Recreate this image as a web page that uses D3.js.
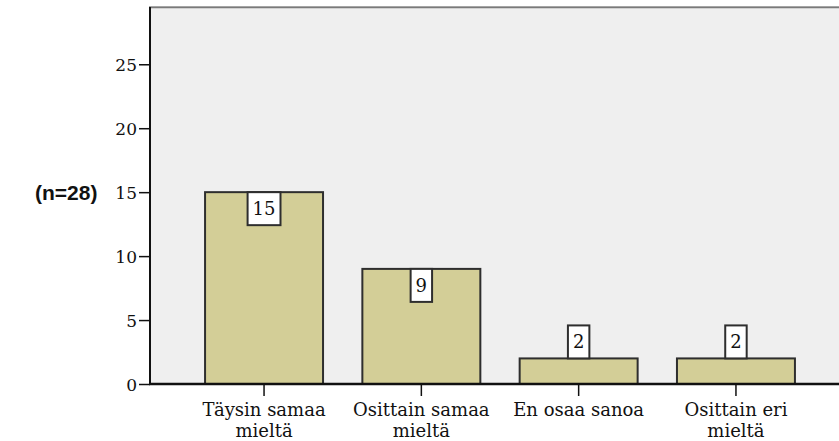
<!DOCTYPE html>
<html><head><meta charset="utf-8">
<script src="https://cdn.jsdelivr.net/npm/d3@7"></script>
<style>body{margin:0;background:#fff}svg{display:block}</style>
</head><body>
<script>
const categories = [["Täysin samaa", "mieltä"], ["Osittain samaa", "mieltä"], ["En osaa sanoa"], ["Osittain eri", "mieltä"]];
const values = [15, 9, 2, 2];
const yTicks = [0, 5, 10, 15, 20, 25];
const yLabel = "(n=28)";

const W = 839, H = 441;
const pLeft = 150, pTop = 8, pBottom = 384, pRightEnd = 850;
const serif = "'DejaVu Serif', 'Liberation Serif', 'Times New Roman', serif";
const svg = d3.select("body").append("svg").attr("width", W).attr("height", H);

const keys = categories.map(c => c.join(" "));
const x = d3.scaleBand().domain(keys).range([pLeft, pRightEnd]).paddingInner(0.25).paddingOuter(0.35);
const y = d3.scaleLinear().domain([0, 29.4]).range([pBottom, pTop]);

// plot background
svg.append("rect").attr("x", pLeft).attr("y", pTop).attr("width", W - pLeft).attr("height", pBottom - pTop).attr("fill", "#efefef");
// top frame line
svg.append("line").attr("x1", pLeft - 1).attr("x2", W).attr("y1", pTop - 1.5).attr("y2", pTop - 1.5).attr("stroke", "#b5b5b5").attr("stroke-width", 1);
svg.append("line").attr("x1", pLeft - 1).attr("x2", W).attr("y1", pTop - 0.5).attr("y2", pTop - 0.5).attr("stroke", "#7a7a7a").attr("stroke-width", 1.5);

// bars
svg.selectAll("rect.bar").data(values).enter().append("rect").attr("class", "bar")
  .attr("x", (d, i) => x(keys[i])).attr("width", x.bandwidth())
  .attr("y", d => y(d)).attr("height", d => pBottom - y(d))
  .attr("fill", "#d3ce97").attr("stroke", "#2e2e2e").attr("stroke-width", 2);

// y axis
const yAxis = svg.append("g").attr("transform", `translate(${pLeft},0)`)
  .call(d3.axisLeft(y).tickValues(yTicks).tickSize(11).tickPadding(2));
yAxis.select(".domain").remove();
yAxis.selectAll(".tick line").attr("stroke", "#111").attr("stroke-width", 1.5);
yAxis.selectAll(".tick text").style("font-family", serif).style("font-size", "17px").attr("fill", "#111").attr("dy", "0.36em");
svg.append("line").attr("x1", pLeft).attr("x2", pLeft).attr("y1", pTop - 1).attr("y2", pBottom + 1).attr("stroke", "#111").attr("stroke-width", 2);

// x axis
const xAxis = svg.append("g").attr("transform", `translate(0,${pBottom})`)
  .call(d3.axisBottom(x).tickSize(12).tickFormat(""));
xAxis.select(".domain").remove();
xAxis.selectAll(".tick line").attr("stroke", "#111").attr("stroke-width", 1.5);
svg.append("line").attr("x1", pLeft - 1).attr("x2", W).attr("y1", pBottom).attr("y2", pBottom).attr("stroke", "#111").attr("stroke-width", 2.5);

// category labels
categories.forEach((c, i) => {
  const cx = x(keys[i]) + x.bandwidth() / 2;
  const t = svg.append("text").attr("x", cx).attr("y", 416)
    .attr("text-anchor", "middle").style("font-family", serif).style("font-size", "18px").attr("fill", "#111");
  c.forEach((line, j) => t.append("tspan").attr("x", cx).attr("dy", j ? 21 : 0).text(line));
});

// value labels
const boxH = 33;
values.forEach((v, i) => {
  const cx = x(keys[i]) + x.bandwidth() / 2;
  const g = svg.append("g");
  const txt = g.append("text").attr("x", cx).attr("text-anchor", "middle")
    .style("font-family", serif).style("font-size", "18px").attr("fill", "#111").text(v);
  const bw = txt.node().getComputedTextLength() + 10;
  const barH = pBottom - y(v);
  const y0 = barH > boxH + 4 ? y(v) : y(v) - boxH;
  g.insert("rect", "text").attr("x", cx - bw / 2).attr("y", y0).attr("width", bw).attr("height", boxH)
    .attr("fill", "#fff").attr("stroke", "#2e2e2e").attr("stroke-width", 2);
  txt.attr("y", y0 + boxH / 2).attr("dy", "0.36em");
});

// y label
svg.append("text").attr("x", 35).attr("y", y(15)).attr("dy", "0.36em")
  .style("font-family", "'Liberation Sans', Arial, sans-serif").attr("font-weight", "bold").style("font-size", "21px")
  .attr("fill", "#111").text(yLabel);
</script>
</body></html>
